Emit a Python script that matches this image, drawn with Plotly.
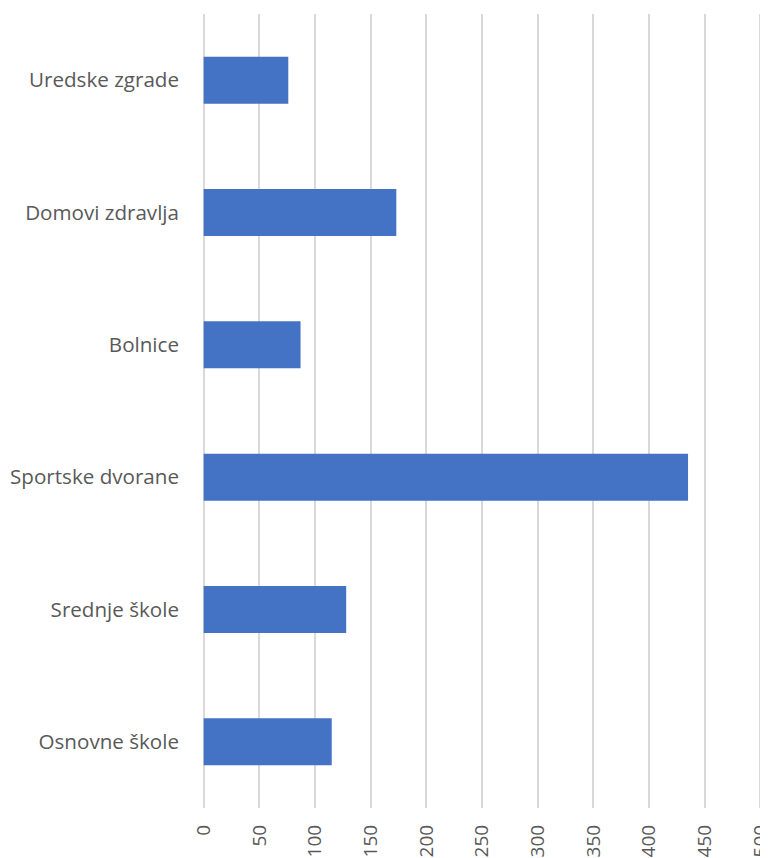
import plotly.graph_objects as go

categories = ["Osnovne škole", "Srednje škole", "Sportske dvorane", "Bolnice", "Domovi zdravlja", "Uredske zgrade"]
values = [115, 128, 435, 87, 173, 76]
tick_values = [0, 50, 100, 150, 200, 250, 300, 350, 400, 450, 500]

fig = go.Figure(go.Bar(
    y=categories,
    x=values,
    orientation="h",
    marker=dict(color="#4472C4", line=dict(width=0)),
))

fig.update_layout(
    width=760, height=850,
    margin=dict(l=194, r=2.3, t=6, b=50),
    paper_bgcolor="white", plot_bgcolor="white",
    bargap=0.645,
    showlegend=False,
    font=dict(family="Open Sans", size=19, color="#595959"),
)
fig.update_xaxes(
    range=[-1.5, 505], tickmode="array", tickvals=tick_values, tickangle=-90,
    showgrid=True, gridcolor="#d9d9d9", gridwidth=2,
    zeroline=False, showline=False, ticks="", ticklabelstandoff=12,
    ticklabeloverflow="allow",
    automargin=False,
    tickfont=dict(size=19, color="#595959"),
)
fig.update_yaxes(
    showgrid=False, zeroline=False, showline=False, ticks="",
    ticklabelstandoff=22, automargin=False,
    ticklabeloverflow="allow",
    tickfont=dict(size=20.6, color="#595959"),
)

fig.write_html("out.html")
